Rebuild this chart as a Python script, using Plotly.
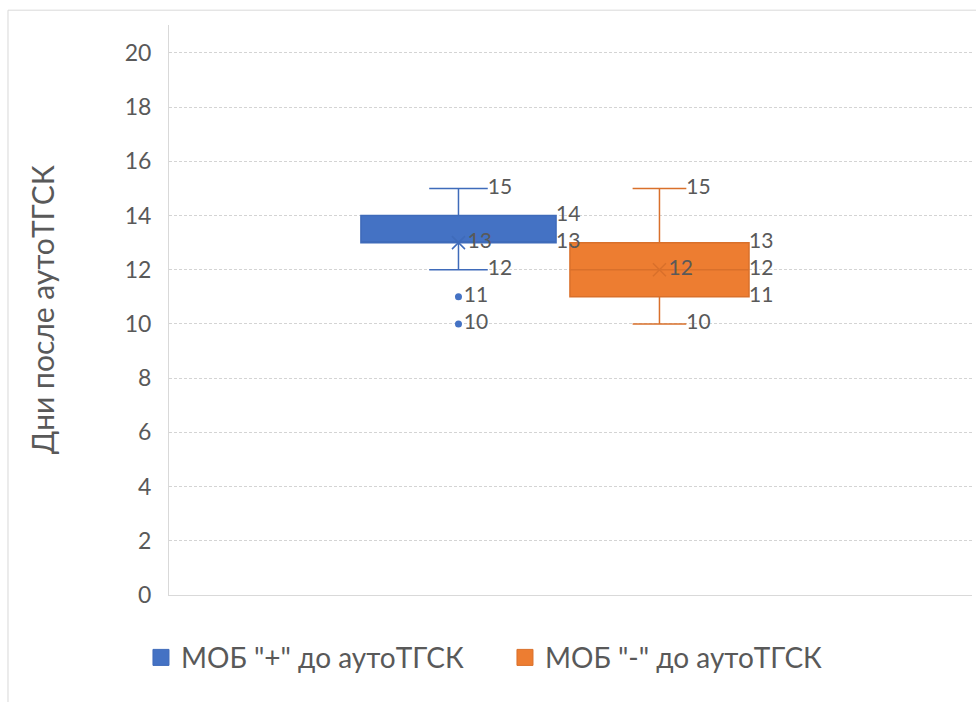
import plotly.graph_objects as go

# ---- data ----
series_names = ['МОБ "+" до аутоТГСК', 'МОБ "-" до аутоТГСК']
colors = ["#4472C4", "#ED7D31"]
line_colors = ["#3F6BBA", "#D9702B"]
q1 = [13, 11]
median = [13, 12]
q3 = [14, 13]
lower_whisker = [12, 10]
upper_whisker = [15, 15]
means = [13, 12]
outliers = [[11, 10], []]
y_ticks = [0, 2, 4, 6, 8, 10, 12, 14, 16, 18, 20]
y_title = "Дни после аутоТГСК"

# ---- layout helpers ----
positions = [0.3605, 0.6108]
widths = [0.243, 0.223]
whisker_frac = 0.3
FONT = "Lato, 'Noto Sans', sans-serif"
TXT = "#595959"

fig = go.Figure()

for i in range(2):
    fig.add_trace(go.Box(
        x=[positions[i]], q1=[q1[i]], median=[median[i]], q3=[q3[i]],
        lowerfence=[lower_whisker[i]], upperfence=[upper_whisker[i]],
        width=widths[i], whiskerwidth=whisker_frac,
        fillcolor=colors[i], line=dict(color=line_colors[i], width=1.5),
        boxpoints=False, showlegend=False, hoverinfo="skip",
    ))
    fig.add_trace(go.Scatter(
        x=[positions[i]], y=[means[i]], mode="markers+text",
        marker=dict(symbol="x-thin", size=13, line=dict(color=line_colors[i], width=1.5)),
        text=[str(means[i])], textposition="middle right",
        textfont=dict(family=FONT, size=21, color=TXT),
        showlegend=False, hoverinfo="skip",
    ))
    if outliers[i]:
        fig.add_trace(go.Scatter(
            x=[positions[i]] * len(outliers[i]), y=outliers[i], mode="markers+text",
            marker=dict(symbol="circle", size=7, color=colors[i]),
            text=[str(v) for v in outliers[i]], textposition="middle right",
            textfont=dict(family=FONT, size=21, color=TXT),
            showlegend=False, hoverinfo="skip",
        ))
    cap_x = positions[i] + widths[i] * whisker_frac / 2
    fig.add_trace(go.Scatter(
        x=[cap_x, cap_x], y=[upper_whisker[i], lower_whisker[i]], mode="text",
        text=[str(upper_whisker[i]), str(lower_whisker[i])], textposition="middle right",
        textfont=dict(family=FONT, size=21, color=TXT),
        showlegend=False, hoverinfo="skip",
    ))
    box_x = positions[i] + widths[i] / 2
    vals = [q3[i], median[i], q1[i]] if median[i] not in (q1[i], q3[i]) else [q3[i], q1[i]]
    fig.add_trace(go.Scatter(
        x=[box_x] * len(vals), y=vals, mode="text",
        text=[str(v) for v in vals], textposition="middle right",
        textfont=dict(family=FONT, size=21, color=TXT),
        showlegend=False, hoverinfo="skip",
    ))
    fig.add_trace(go.Scatter(
        x=[None], y=[None], mode="markers", name=series_names[i],
        marker=dict(symbol="square", size=20, color=colors[i], line=dict(color=line_colors[i], width=1)),
    ))

fig.update_layout(
    width=976, height=702,
    margin=dict(l=169, r=4, t=25, b=107),
    paper_bgcolor="white", plot_bgcolor="white",
    font=dict(family=FONT, color=TXT),
    xaxis=dict(range=[0, 1], showticklabels=False, showgrid=False, zeroline=False,
               showline=True, linecolor="#D9D9D9", linewidth=1, fixedrange=True),
    yaxis=dict(range=[0, 21.03], tickvals=y_ticks, ticktext=[str(v) for v in y_ticks],
               showgrid=True, gridcolor="#D4D4D4", griddash="3px,2px", gridwidth=1,
               zeroline=False, showline=True, linecolor="#D9D9D9", linewidth=1,
               tickfont=dict(family=FONT, size=23, color=TXT), ticklabelstandoff=12),
    legend=dict(orientation="h", x=-0.0349, xanchor="left", y=-0.11, yanchor="middle",
                font=dict(family=FONT, size=28, color=TXT), itemsizing="trace",
                itemwidth=30, tracegroupgap=0, entrywidth=319),
    annotations=[dict(text=y_title, xref="paper", yref="paper", x=-0.158, y=0.5,
                      xanchor="center", yanchor="middle", textangle=-90, showarrow=False,
                      font=dict(family=FONT, size=30, color=TXT))],
    shapes=[dict(type="rect", xref="paper", yref="paper", x0=-0.2005, x1=1.2,
                 y0=-0.5, y1=1.026, line=dict(color="#D9D9D9", width=1),
                 fillcolor="rgba(0,0,0,0)", layer="below")],
)

fig.write_html("out.html")
